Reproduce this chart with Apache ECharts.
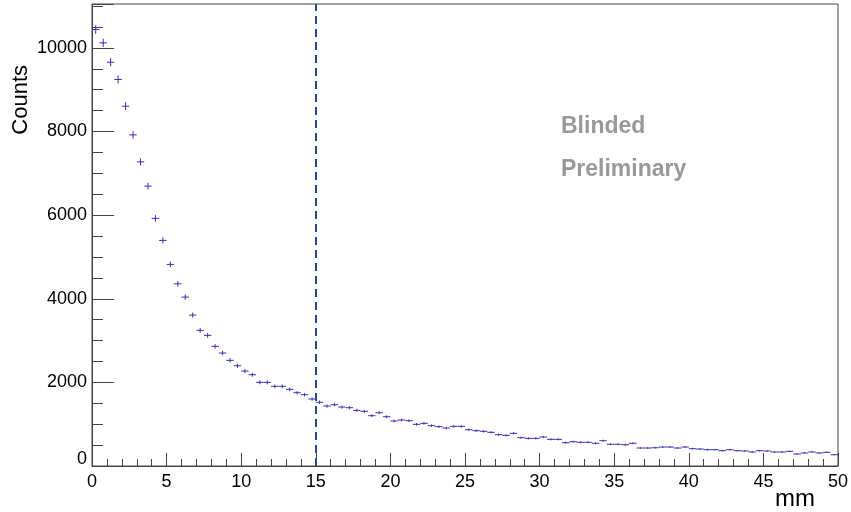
<!DOCTYPE html>
<html>
<head>
<meta charset="utf-8">
<script src="https://cdn.jsdelivr.net/npm/echarts@6/dist/echarts.min.js"></script>
<style>
  html, body { margin: 0; padding: 0; background: #fff; }
  #chart { width: 851px; height: 512px; }
</style>
</head>
<body>
<div id="chart"></div>
<script>
// Histogram binning (mm)
const BIN_LOW = 0;
const BIN_WIDTH = 0.5;
const X_MIN = 0;
const X_MAX = 50;
const Y_MAX = 11050;
const CUT_POSITION = 15;

// Counts per 0.5 mm bin, 0 .. 50 mm
const counts = [
  10440, 10120, 9658, 9245, 8606, 7920, 7275, 6694, 5922, 5396,
  4822, 4358, 4040, 3610, 3244, 3125, 2862, 2701, 2527, 2398,
  2271, 2183, 2001, 2001, 1905, 1905, 1834, 1753, 1705, 1602,
  1523, 1434, 1465, 1410, 1394, 1331, 1308, 1203, 1274, 1179,
  1076, 1100, 1083, 997, 1020, 964, 940, 908, 948, 948,
  868, 844, 829, 805, 749, 733, 781, 677, 661, 661,
  693, 637, 637, 557, 581, 567, 567, 543, 605, 519,
  519, 509, 543, 430, 430, 437, 454, 454, 430, 454,
  414, 406, 390, 390, 366, 390, 366, 359, 335, 366,
  359, 335, 335, 351, 287, 311, 335, 311, 327, 270
];

const xTicks = [0, 5, 10, 15, 20, 25, 30, 35, 40, 45, 50];
const yTicks = [0, 2000, 4000, 6000, 8000, 10000];

const xTitle = 'mm';
const yTitle = 'Counts';
const notes = ['Blinded', 'Preliminary'];

const MARK_COLOR = '#3030c0';
const AXIS_COLOR = '#444';
const FONT = '"Liberation Sans", Arial, Helvetica, sans-serif';

// [bin centre, counts, Poisson error]
const points = counts.map((n, i) => [BIN_LOW + (i + 0.5) * BIN_WIDTH, n, Math.sqrt(n)]);

const chart = echarts.init(document.getElementById('chart'), null, { renderer: 'canvas' });

const option = {
  animation: false,
  backgroundColor: '#fff',
  grid: {
    left: 92, right: 12, top: 4, bottom: 46,
    show: true, borderColor: AXIS_COLOR, borderWidth: 1, backgroundColor: 'transparent'
  },
  xAxis: {
    type: 'value', min: X_MIN, max: X_MAX, interval: 5,
    axisLine: { show: true, onZero: false, lineStyle: { color: AXIS_COLOR, width: 1 } },
    axisTick: { show: true, inside: true, length: 13, lineStyle: { color: AXIS_COLOR } },
    minorTick: { show: true, splitNumber: 5, length: 7, lineStyle: { color: AXIS_COLOR } },
    splitLine: { show: false },
    axisLabel: {
      fontSize: 18, color: '#000', margin: 7, fontFamily: FONT,
      formatter: v => xTicks.includes(v) ? String(v) : ''
    }
  },
  yAxis: [
    {
      type: 'value', min: 0, max: Y_MAX, interval: 2000,
      axisLine: { show: true, lineStyle: { color: AXIS_COLOR, width: 1 } },
      axisTick: { show: true, inside: true, length: 22, lineStyle: { color: AXIS_COLOR } },
      splitLine: { show: false },
      axisLabel: {
        fontSize: 18, color: '#000', margin: 5, fontFamily: FONT,
        formatter: v => v === 0 ? '{z|0}' : (yTicks.includes(v) ? String(v) : ''),
        rich: { z: { fontSize: 18, color: '#000', fontFamily: FONT, padding: [0, 0, 14, 0] } }
      }
    },
    {
      type: 'value', min: 0, max: Y_MAX, interval: 500, position: 'left',
      axisLine: { show: false },
      axisTick: { show: true, inside: true, length: 11, lineStyle: { color: AXIS_COLOR } },
      splitLine: { show: false },
      axisLabel: { show: false }
    }
  ],
  series: [
    {
      type: 'custom',
      xAxisIndex: 0, yAxisIndex: 0,
      data: points,
      clip: true,
      renderItem: (params, api) => {
        const x = api.value(0), y = api.value(1), e = api.value(2);
        const half = BIN_WIDTH / 2;
        const pl = api.coord([x - half, y]);
        const pr = api.coord([x + half, y]);
        const pt = api.coord([x, y + e]);
        const pb = api.coord([x, y - e]);
        const st = { stroke: MARK_COLOR, lineWidth: 1 };
        return {
          type: 'group',
          children: [
            { type: 'line', shape: { x1: pl[0], y1: pl[1], x2: pr[0], y2: pr[1] }, style: st },
            { type: 'line', shape: { x1: pt[0], y1: pt[1], x2: pb[0], y2: pb[1] }, style: st }
          ]
        };
      },
      markLine: {
        silent: true,
        symbol: ['none', 'none'],
        label: { show: false },
        lineStyle: { color: '#27488a', width: 2, type: [8, 5] },
        data: [{ xAxis: CUT_POSITION }]
      }
    }
  ],
  graphic: [
    {
      type: 'text', left: 10, top: 65, rotation: Math.PI / 2,
      style: { text: yTitle, font: '22px ' + FONT, fill: '#000' },
      originX: 0, originY: 0
    },
    {
      type: 'text', left: 775, top: 487,
      style: { text: xTitle, font: '24px ' + FONT, fill: '#000' }
    },
    {
      type: 'text', left: 561, top: 115,
      style: { text: notes[0], font: 'bold 23px ' + FONT, fill: '#999' }
    },
    {
      type: 'text', left: 561, top: 158,
      style: { text: notes[1], font: 'bold 23px ' + FONT, fill: '#999' }
    }
  ]
};

chart.setOption(option);
</script>
</body>
</html>
